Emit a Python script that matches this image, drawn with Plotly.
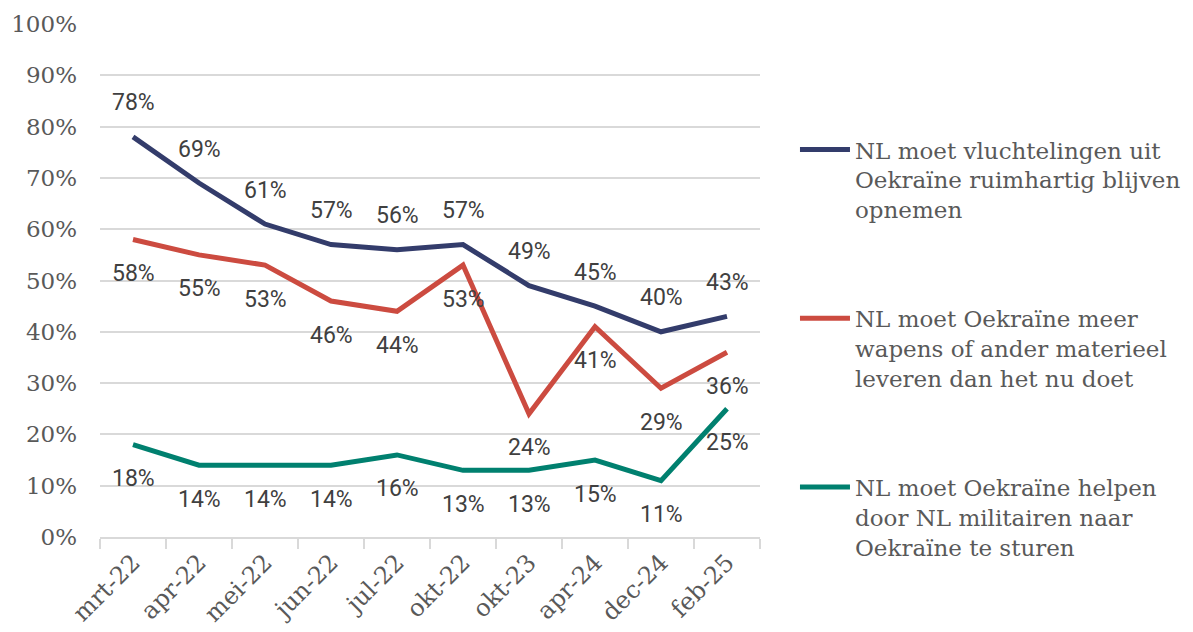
import plotly.graph_objects as go

categories = ["mrt-22", "apr-22", "mei-22", "jun-22", "jul-22", "okt-22", "okt-23", "apr-24", "dec-24", "feb-25"]
opvang = [78, 69, 61, 57, 56, 57, 49, 45, 40, 43]
wapens = [58, 55, 53, 46, 44, 53, 24, 41, 29, 36]
militairen = [18, 14, 14, 14, 16, 13, 13, 15, 11, 25]

names = [
    "NL moet vluchtelingen uit<br>Oekraïne ruimhartig blijven<br>opnemen",
    "NL moet Oekraïne meer<br>wapens of ander materieel<br>leveren dan het nu doet",
    "NL moet Oekraïne helpen<br>door NL militairen naar<br>Oekraïne te sturen",
]
series = [opvang, wapens, militairen]
colors = ["#333c6b", "#cc4b40", "#00806f"]
shifts = [34, -34, -34]

serif = "DejaVu Serif"
fig = go.Figure()
for i, (vals, name, col) in enumerate(zip(series, names, colors)):
    fig.add_trace(go.Scatter(
        x=categories, y=vals, mode="lines", name=name,
        line=dict(color=col, width=5), legendgroup=f"g{i}",
    ))
    for c, v in zip(categories, vals):
        fig.add_annotation(x=c, y=v, text=f"{v}%", showarrow=False,
                           yshift=shifts[i],
                           font=dict(family="Roboto", size=23, color="#404040"))

fig.update_layout(
    width=1193, height=632,
    margin=dict(l=92, r=441, t=16, b=103),
    plot_bgcolor="white", paper_bgcolor="white",
    showlegend=True,
    legend=dict(x=1.053, y=0.797, xanchor="left", yanchor="top",
                font=dict(family=serif, size=23, color="#595959"),
                valign="top", tracegroupgap=76, itemwidth=50),
    xaxis=dict(type="category", showgrid=False, showline=True, linecolor="#d9d9d9", linewidth=2,
               ticks="outside", tickson="boundaries", ticklen=10, tickcolor="#d9d9d9", tickwidth=2,
               tickangle=-45, tickfont=dict(family=serif, size=24, color="#595959"),
               range=[-0.5, 9.5], automargin=False),
    yaxis=dict(range=[0, 100], dtick=10, ticksuffix="%", showgrid=True, gridcolor="#d9d9d9",
               gridwidth=2, zeroline=False, showline=False, automargin=False,
               tickfont=dict(family=serif, size=23, color="#595959"), ticklabelstandoff=22),
)
fig.write_html("out.html")
